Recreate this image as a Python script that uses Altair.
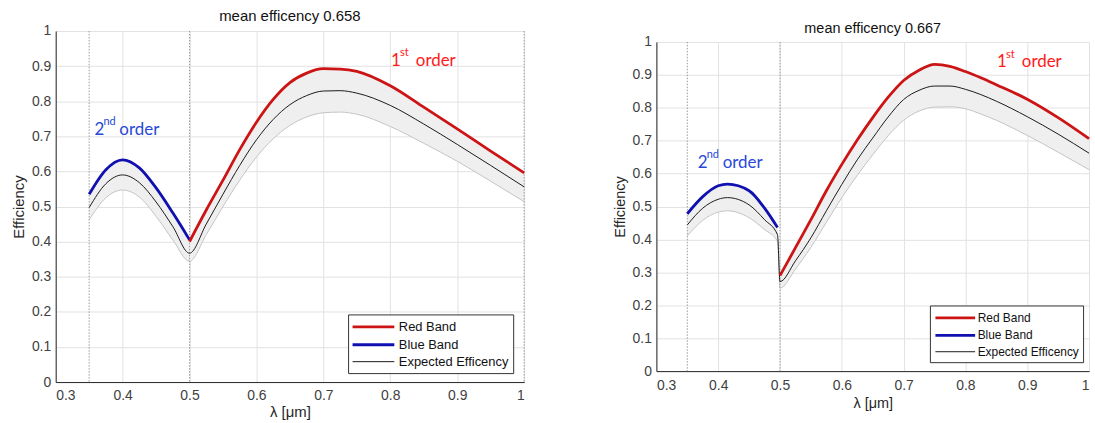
import altair as alt
import pandas as pd

# ---------------- data ----------------
SERIES = ["Red Band", "Blue Band", "Expected Efficency"]

# left panel
L_TITLE = "mean efficency 0.658"
L_BLUE_LAM = [0.35, 0.375, 0.4, 0.425, 0.45, 0.475, 0.5]
L_BLUE_UP = [0.535, 0.605, 0.633, 0.610, 0.553, 0.482, 0.405]
L_BLUE_EXP = [0.497, 0.565, 0.590, 0.568, 0.513, 0.443, 0.367]
L_BLUE_LOW = [0.462, 0.525, 0.547, 0.527, 0.472, 0.405, 0.344]
L_RED_LAM = [0.5, 0.525, 0.55, 0.575, 0.6, 0.625, 0.65, 0.675, 0.7, 0.725, 0.75, 0.8, 0.85, 0.9, 0.95, 1.0]
L_RED_UP = [0.400, 0.490, 0.575, 0.662, 0.740, 0.805, 0.853, 0.880, 0.8925, 0.8915, 0.885, 0.844, 0.783, 0.721, 0.658, 0.596]
L_RED_EXP = [0.367, 0.450, 0.535, 0.617, 0.690, 0.748, 0.790, 0.816, 0.829, 0.830, 0.823, 0.788, 0.735, 0.677, 0.617, 0.556]
L_RED_LOW = [0.344, 0.420, 0.500, 0.575, 0.641, 0.693, 0.731, 0.755, 0.767, 0.769, 0.763, 0.728, 0.680, 0.629, 0.572, 0.514]
L_DOTTED = [0.35, 0.5, 1.0]
L_ANN = [("2", "nd", 0.358, 0.717, "#2a48d8"), ("1", "st", 0.801, 0.915, "#ff1a1a")]

# right panel
R_TITLE = "mean efficency 0.667"
R_BLUE_LAM = [0.35, 0.375, 0.4, 0.415, 0.45, 0.475, 0.496]
R_BLUE_UP = [0.478, 0.530, 0.563, 0.568, 0.548, 0.495, 0.436]
R_BLUE_EXP = [0.444, 0.495, 0.522, 0.527, 0.505, 0.460, 0.414]
R_BLUE_LOW = [0.411, 0.458, 0.483, 0.487, 0.466, 0.430, 0.394]
R_RED_LAM = [0.5, 0.525, 0.55, 0.575, 0.6, 0.625, 0.65, 0.675, 0.7, 0.725, 0.75, 0.775, 0.8, 0.825, 0.85, 0.9, 0.95, 1.0]
R_RED_UP = [0.290, 0.375, 0.460, 0.548, 0.628, 0.702, 0.770, 0.832, 0.883, 0.914, 0.932, 0.926, 0.910, 0.891, 0.870, 0.826, 0.770, 0.706]
R_RED_EXP = [0.272, 0.335, 0.405, 0.487, 0.567, 0.642, 0.708, 0.772, 0.825, 0.853, 0.866, 0.866, 0.856, 0.840, 0.820, 0.773, 0.720, 0.662]
R_RED_LOW = [0.252, 0.310, 0.376, 0.452, 0.527, 0.595, 0.657, 0.715, 0.762, 0.790, 0.802, 0.803, 0.797, 0.781, 0.762, 0.716, 0.665, 0.612]
R_DOTTED = [0.35, 0.5]
R_ANN = [("2", "nd", 0.367, 0.631, "#2a48d8"), ("1", "st", 0.851, 0.9375, "#ff1a1a")]

X_TICKS = [0.3, 0.4, 0.5, 0.6, 0.7, 0.8, 0.9, 1.0]
Y_TICKS = [0, 0.1, 0.2, 0.3, 0.4, 0.5, 0.6, 0.7, 0.8, 0.9, 1.0]

COLORS = ["#cc1414", "#1010b0", "#1a1a1a"]
WIDTHS = [2.8, 2.8, 1.0]
FONT = "Liberation Sans"


def spacer(h):
    # invisible block that only reserves vertical room above a panel
    return alt.Chart(pd.DataFrame({"a": [0]})).mark_point(opacity=0).encode(
        x=alt.value(0), y=alt.value(0)).properties(width=1, height=h)


def panel(blue, red, dotted, ann, title, w, h, fs, tfs, lx, ly, sym, lfs, rowpad,
          top_gap, title_off, lab_pad, title_pad, xlab_pad, xtitle_pad, lab_off):
    bl, bu, be, blo = blue
    rl, ru, re_, rlo = red
    band = pd.DataFrame({
        "lam": bl + rl,
        "upper": bu + ru,
        "lower": blo + rlo,
        "idx": list(range(len(bl) + len(rl))),
    })
    rows = []
    for i, (x, e) in enumerate(zip(bl + rl, be + re_)):
        rows.append({"lam": x, "val": e, "series": "Expected Efficency", "idx": i})
    for i, (x, u) in enumerate(zip(bl, bu)):
        rows.append({"lam": x, "val": u, "series": "Blue Band", "idx": i})
    for i, (x, u) in enumerate(zip(rl, ru)):
        rows.append({"lam": x, "val": u, "series": "Red Band", "idx": i})
    lines = pd.DataFrame(rows)
    dots = pd.DataFrame({"lam": dotted})

    xs = alt.Scale(domain=[0.3, 1.0], nice=False, zero=False)
    ys = alt.Scale(domain=[0, 1.0], nice=False, zero=False)
    xax = alt.Axis(values=X_TICKS, format="~g", title="λ [μm]", grid=True,
                   labelFontSize=fs, titleFontSize=tfs, labelPadding=xlab_pad,
                   titlePadding=xtitle_pad, labelOverlap=False)
    yax = alt.Axis(values=Y_TICKS, format="~g", title="Efficiency", grid=True,
                   labelFontSize=fs, titleFontSize=tfs, labelPadding=lab_pad,
                   titlePadding=title_pad, labelOverlap=False)

    def X(f="lam"):
        return alt.X(f + ":Q", scale=xs, axis=xax)

    def Y(f):
        return alt.Y(f + ":Q", scale=ys, axis=yax)

    area = alt.Chart(band).mark_area(color="#efefef", opacity=1,
                                     interpolate="monotone").encode(
        x=X(), y=Y("upper"), y2="lower:Q")
    low = alt.Chart(band).mark_line(color="#c4c4c4", strokeWidth=1,
                                    interpolate="monotone").encode(
        x=X(), y=Y("lower"), order="idx:Q")
    rules = alt.Chart(dots).mark_rule(color="#9a9a9a", strokeWidth=1,
                                      strokeDash=[1.5, 1.5]).encode(x=X())

    leg = alt.Legend(title=None, orient="none", legendX=lx, legendY=ly,
                     symbolType="M-3,0H3", symbolSize=sym * sym, symbolOffset=13,
                     labelFont=FONT, labelFontSize=lfs, labelColor="#111111",
                     strokeColor="#333333", fillColor="white", padding=4,
                     rowPadding=rowpad, labelOffset=lab_off, cornerRadius=0)
    cscale = alt.Scale(domain=SERIES, range=COLORS)
    wscale = alt.Scale(type="ordinal", domain=SERIES, range=WIDTHS)

    def line_layer(pred):
        return alt.Chart(lines).transform_filter(pred).mark_line(
            interpolate="monotone").encode(
            x=X(), y=Y("val"), order="idx:Q",
            color=alt.Color("series:N", scale=cscale, legend=leg),
            strokeWidth=alt.StrokeWidth("series:N", scale=wscale, legend=leg),
            detail="series:N",
        )

    exp_line = line_layer(alt.datum.series == "Expected Efficency")
    band_lines = line_layer(alt.datum.series != "Expected Efficency")

    adf = pd.DataFrame([{"num": a, "sup": b, "lam": x, "v": y, "col": c} for a, b, x, y, c in ann])
    base_t = alt.Chart(adf).encode(x=X(), y=Y("v"),
                                   color=alt.Color("col:N", scale=None, legend=None))
    t_num = base_t.mark_text(align="left", baseline="middle", font="Lato",
                             fontSize=17).encode(text="num:N")
    t_sup = base_t.mark_text(align="left", baseline="middle", font="Lato",
                             fontSize=11, dx=9, dy=-8).encode(text="sup:N")
    t_ord = base_t.mark_text(align="left", baseline="middle", font="Lato",
                             fontSize=17, dx=25).encode(text=alt.value("order"))

    layered = alt.layer(area, low, rules, exp_line, band_lines, t_num, t_sup, t_ord).properties(
        width=w, height=h,
        title=alt.TitleParams(text=title, font=FONT, fontSize=tfs, fontWeight="normal",
                              color="#111111", offset=title_off),
    )
    return alt.vconcat(spacer(top_gap), layered, spacing=0)


left = panel((L_BLUE_LAM, L_BLUE_UP, L_BLUE_EXP, L_BLUE_LOW),
             (L_RED_LAM, L_RED_UP, L_RED_EXP, L_RED_LOW),
             L_DOTTED, L_ANN, L_TITLE, 471, 353, 14, 15, 294, 312, 14, 13, 2,
             5, 0, 5, 5, 7, 2, 17)
right = panel((R_BLUE_LAM, R_BLUE_UP, R_BLUE_EXP, R_BLUE_LOW),
              (R_RED_LAM, R_RED_UP, R_RED_EXP, R_RED_LOW),
              R_DOTTED, R_ANN, R_TITLE, 435, 331, 14, 14.5, 275, 303, 13.3, 12, 2.5,
              17, -2, 5, 5, 7, 5, 14)

chart = alt.hconcat(left, right, spacing=82).resolve_scale(
    color="independent", strokeWidth="independent"
).resolve_legend(color="independent", strokeWidth="independent").properties(
    padding={"left": 11, "top": 0, "right": 0, "bottom": 0}
).configure_view(stroke=None).configure_axis(
    labelFont=FONT, titleFont=FONT, labelColor="#404040", titleColor="#262626",
    titleFontWeight="normal", gridColor="#e2e2e2", domainColor="#262626",
    ticks=False, domain=True,
)

chart.save("out.html", embed_options={"renderer": "svg", "actions": False})
